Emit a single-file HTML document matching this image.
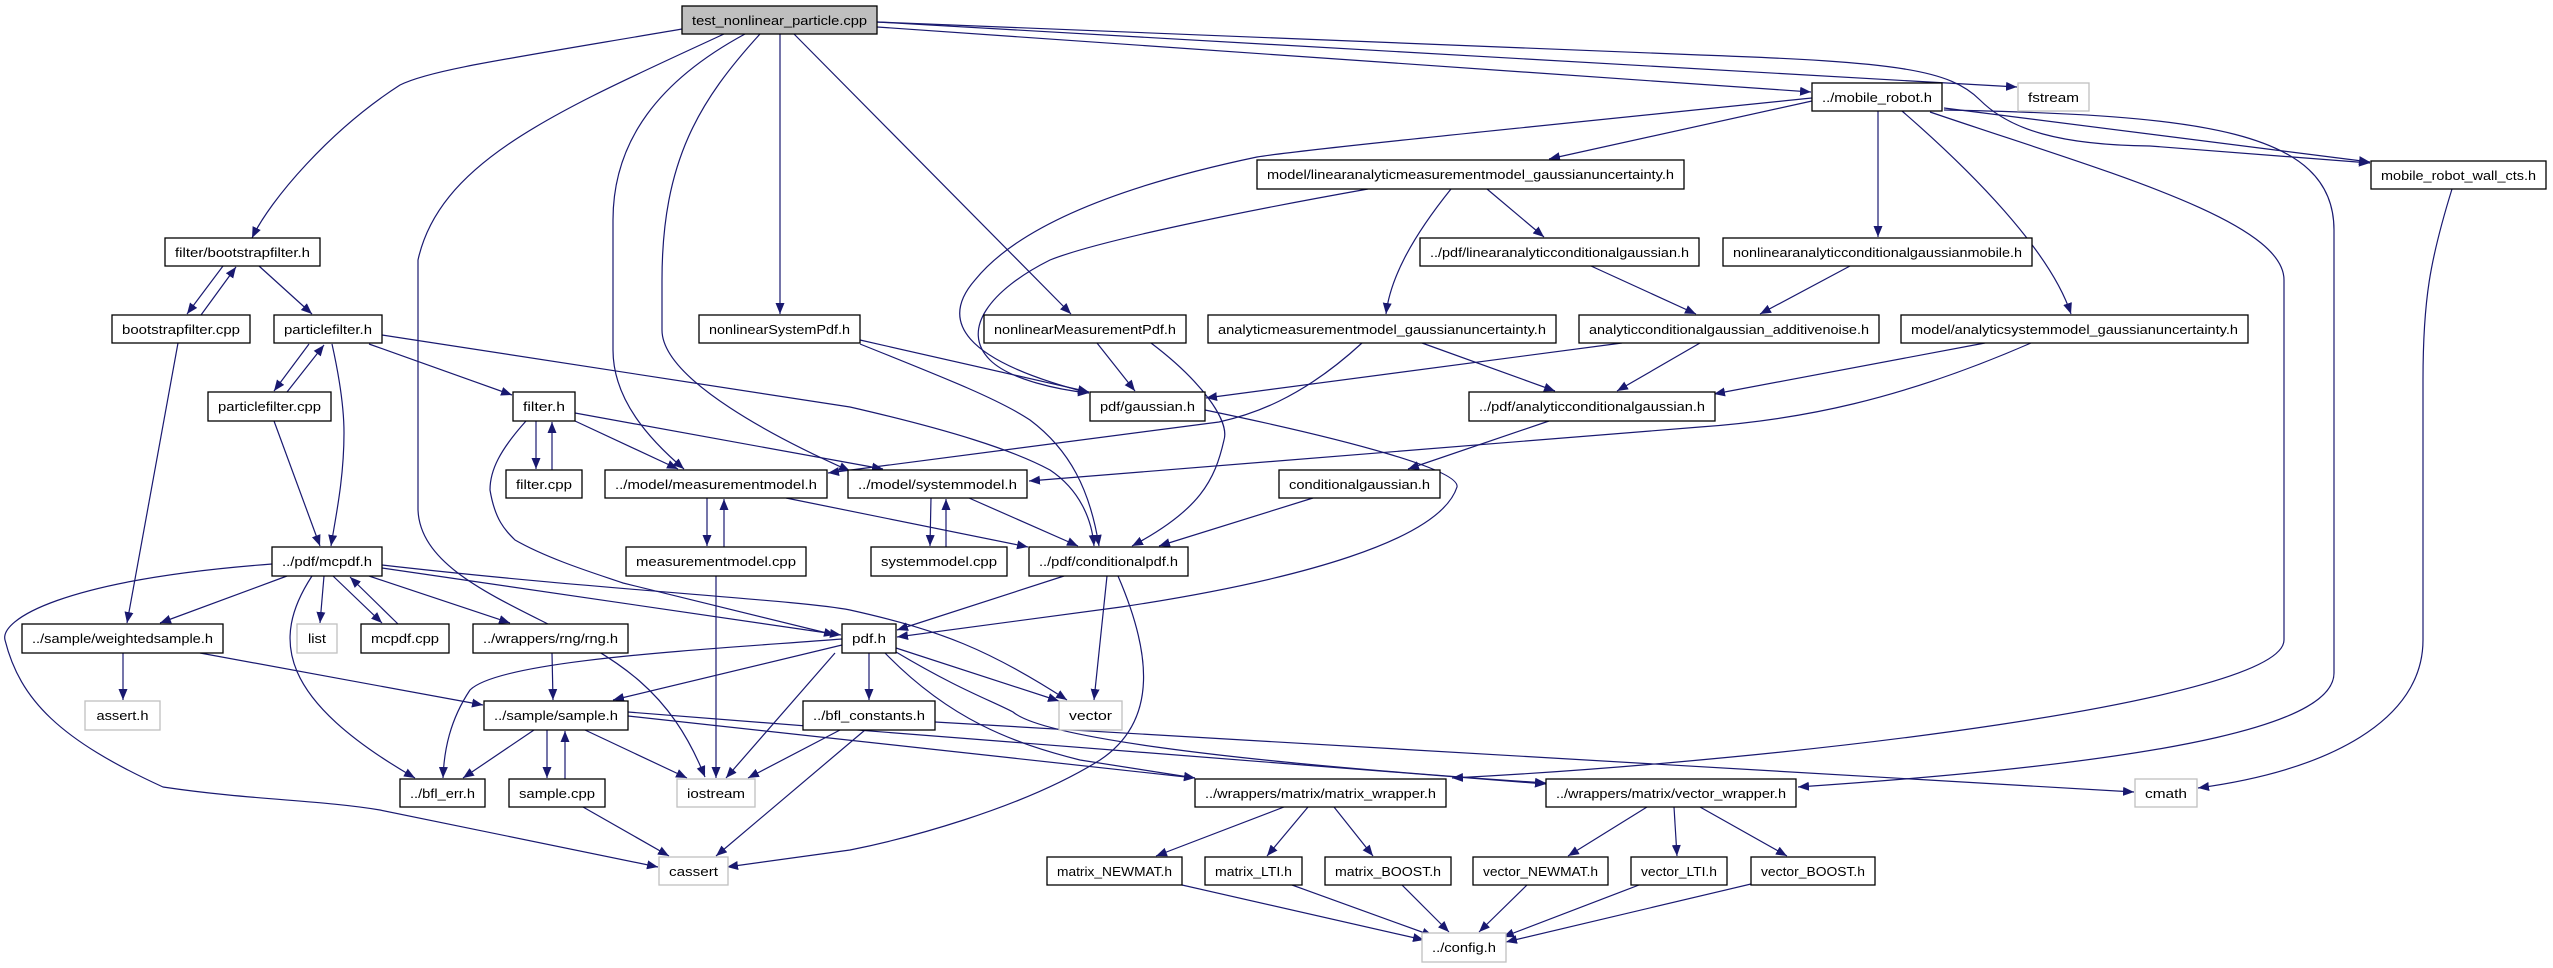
<!DOCTYPE html>
<html><head><meta charset="utf-8"><style>
html,body{margin:0;padding:0;background:#fff;}
svg{display:block;}
text{font-family:"Liberation Sans",sans-serif;font-size:13px;fill:#000;}
</style></head><body>
<svg width="2553" height="968" viewBox="0 0 2553 968" xmlns="http://www.w3.org/2000/svg">
<defs>
<marker id="a" markerWidth="12" markerHeight="10" refX="11" refY="4.5" orient="auto" markerUnits="userSpaceOnUse">
<path d="M0,0 L11,4.5 L0,9 z" fill="#191970"/>
</marker>
</defs>
<g fill="none" stroke="#191970" stroke-width="1.2" marker-end="url(#a)">
<!-- from test -->
<path d="M682,29 C500,60 430,70 400,85 C330,130 270,200 252,238"/>
<path d="M724,34 C560,110 440,160 418,260 L418,510 C420,560 480,590 540,620 C620,660 670,690 705,777"/>
<path d="M745,34 C660,80 613,140 613,220 L613,350 C613,400 650,440 684,469"/>
<path d="M760,34 C700,100 662,160 662,280 L662,330 C662,380 780,440 850,471"/>
<path d="M780,34 L780,314"/>
<path d="M794,34 L1071,314"/>
<path d="M877,27 L1811,92"/>
<path d="M877,22 L2017,87"/>
<path d="M877,22 L1700,55 C1900,62 1950,70 1980,100 C2010,130 2060,145 2150,146 L2370,163"/>
<!-- mobile_robot -->
<path d="M1878,111 L1878,237"/>
<path d="M1902,111 C1970,170 2050,250 2071,314"/>
<path d="M1930,112 C2100,170 2284,220 2284,280 L2284,640 C2284,700 1800,760 1452,778"/>
<path d="M1944,110 C2200,115 2334,130 2334,230 L2334,673 C2334,720 2200,760 1798,787"/>
<path d="M1944,108 L2370,162"/>
<path d="M1812,101 L1549,159"/>
<path d="M1812,98 C1500,130 1300,150 1257,157 C1100,190 1013,233 975,280 C940,320 960,360 1089,393"/>
<path d="M1368,189 C1250,210 1100,240 1050,260 C990,290 960,330 990,360 C1010,380 1060,390 1089,393"/>
<path d="M1451,189 C1410,240 1390,280 1386,314"/>
<path d="M1487,189 L1544,237"/>
<path d="M1591,266 L1696,314"/>
<path d="M1850,266 L1760,314"/>
<path d="M1622,343 L1206,398"/>
<path d="M1700,343 L1617,391"/>
<path d="M1985,343 L1714,394"/>
<path d="M2031,343 C1900,400 1800,420 1700,427 L1029,481"/>
<path d="M1422,343 L1555,391"/>
<path d="M1362,343 C1300,400 1250,415 1219,422 L828,473"/>
<path d="M1549,421 L1408,469"/>
<path d="M1313,498 L1159,546"/>
<path d="M1205,410 C1350,440 1460,470 1457,487 C1440,540 1300,580 1121,607 L897,637"/>
<path d="M1097,343 L1135,391"/>
<path d="M1151,343 C1200,380 1230,420 1224,440 C1215,480 1200,510 1132,546"/>
<path d="M860,340 L1089,392"/>
<path d="M860,344 C950,380 1000,400 1030,420 C1070,450 1090,490 1099,546"/>
<path d="M382,335 L850,407 C950,430 1013,450 1050,470 C1080,490 1092,520 1094,546"/>
<path d="M369,344 L512,395"/>
<path d="M332,344 C340,380 344,410 344,433 C344,480 335,520 331,546"/>
<path d="M309,344 L274,391"/>
<path d="M287,392 L324,345"/>
<path d="M274,421 L320,546"/>
<path d="M223,266 L187,314"/>
<path d="M201,315 L236,267"/>
<path d="M259,266 L312,314"/>
<path d="M178,343 L127,623"/>
<path d="M536,421 L536,469"/>
<path d="M552,470 L552,422"/>
<path d="M575,421 L678,469"/>
<path d="M575,413 L883,469"/>
<path d="M526,421 C500,450 490,470 490,490 C495,520 505,530 515,540 C550,560 600,575 623,583 L835,635"/>
<path d="M707,498 L707,546"/>
<path d="M724,547 L724,499"/>
<path d="M786,498 L1028,547"/>
<path d="M716,576 L716,778"/>
<path d="M931,498 L930,546"/>
<path d="M946,547 L946,499"/>
<path d="M969,498 L1078,546"/>
<path d="M1064,576 L897,630"/>
<path d="M1107,576 L1094,700"/>
<path d="M1118,576 C1150,650 1160,720 1100,760 C1020,810 900,840 850,850 L727,867"/>
<path d="M287,576 L160,623"/>
<path d="M324,576 L320,623"/>
<path d="M333,576 L382,623"/>
<path d="M398,624 L350,577"/>
<path d="M369,576 L510,623"/>
<path d="M382,568 L841,635"/>
<path d="M382,565 C600,590 800,600 850,610 C940,630 990,650 1067,700"/>
<path d="M312,576 C270,640 280,700 415,778"/>
<path d="M272,564 C60,580 0,620 5,640 C20,700 60,740 163,787 C250,800 320,800 380,810 L658,867"/>
<path d="M123,653 L123,700"/>
<path d="M200,653 L483,705"/>
<path d="M552,653 L553,700"/>
<path d="M842,645 L613,700"/>
<path d="M842,639 C700,650 500,660 470,690 C450,720 444,750 443,778"/>
<path d="M835,653 L726,778"/>
<path d="M869,653 L869,700"/>
<path d="M896,648 L1059,701"/>
<path d="M885,653 C950,720 1013,743 1080,760 L1195,778"/>
<path d="M896,652 C960,690 990,700 1013,712 C1040,735 1200,760 1546,783"/>
<path d="M534,730 L463,778"/>
<path d="M547,730 L547,778"/>
<path d="M565,779 L565,731"/>
<path d="M585,730 L687,778"/>
<path d="M628,716 L1195,778"/>
<path d="M628,712 L1546,784"/>
<path d="M583,807 L669,856"/>
<path d="M840,730 L748,778"/>
<path d="M865,730 L716,856"/>
<path d="M935,722 L2134,792"/>
<path d="M1284,807 L1156,856"/>
<path d="M1308,807 L1267,856"/>
<path d="M1334,807 L1373,856"/>
<path d="M1647,807 L1568,856"/>
<path d="M1674,807 L1677,856"/>
<path d="M1700,807 L1787,856"/>
<path d="M1182,885 L1424,940"/>
<path d="M1292,885 L1433,936"/>
<path d="M1402,885 L1449,932"/>
<path d="M1527,885 L1479,932"/>
<path d="M1639,885 L1503,937"/>
<path d="M1751,884 L1506,942"/>
<path d="M2452,189 C2430,260 2423,300 2423,380 L2423,640 C2423,720 2330,770 2198,788"/>
</g>
<g stroke-width="1.3">
<rect x="682" y="6" width="195" height="28" fill="#bfbfbf" stroke="#000"/>
<g fill="#fff" stroke="#000">
<rect x="165" y="238" width="155" height="28"/>
<rect x="112" y="315" width="138" height="28"/>
<rect x="274" y="315" width="108" height="28"/>
<rect x="208" y="392" width="123" height="29"/>
<rect x="513" y="392" width="62" height="29"/>
<rect x="506" y="470" width="76" height="28"/>
<rect x="605" y="470" width="222" height="28"/>
<rect x="699" y="315" width="161" height="28"/>
<rect x="984" y="315" width="202" height="28"/>
<rect x="1208" y="315" width="348" height="28"/>
<rect x="1579" y="315" width="300" height="28"/>
<rect x="1257" y="160" width="427" height="29"/>
<rect x="1420" y="238" width="279" height="28"/>
<rect x="1090" y="392" width="115" height="29"/>
<rect x="1469" y="392" width="246" height="29"/>
<rect x="848" y="470" width="179" height="28"/>
<rect x="1279" y="470" width="161" height="28"/>
<rect x="1812" y="83" width="130" height="28"/>
<rect x="2371" y="161" width="175" height="28"/>
<rect x="1723" y="238" width="309" height="28"/>
<rect x="1901" y="315" width="347" height="28"/>
<rect x="272" y="547" width="110" height="29"/>
<rect x="22" y="624" width="201" height="29"/>
<rect x="361" y="624" width="88" height="29"/>
<rect x="473" y="624" width="155" height="29"/>
<rect x="484" y="701" width="144" height="29"/>
<rect x="400" y="779" width="85" height="28"/>
<rect x="509" y="779" width="96" height="28"/>
<rect x="626" y="547" width="180" height="29"/>
<rect x="842" y="624" width="54" height="29"/>
<rect x="803" y="701" width="132" height="29"/>
<rect x="871" y="547" width="136" height="29"/>
<rect x="1029" y="547" width="159" height="29"/>
<rect x="1195" y="779" width="251" height="28"/>
<rect x="1546" y="779" width="250" height="28"/>
<rect x="1047" y="857" width="135" height="28"/>
<rect x="1205" y="857" width="97" height="28"/>
<rect x="1325" y="857" width="126" height="28"/>
<rect x="1473" y="857" width="135" height="28"/>
<rect x="1631" y="857" width="96" height="28"/>
<rect x="1751" y="857" width="124" height="28"/>
</g>
<g fill="#fff" stroke="#c0c0c0">
<rect x="2018" y="83" width="71" height="28"/>
<rect x="297" y="624" width="40" height="29"/>
<rect x="85" y="701" width="75" height="29"/>
<rect x="677" y="779" width="78" height="28"/>
<rect x="659" y="857" width="69" height="28"/>
<rect x="1059" y="701" width="63" height="29"/>
<rect x="1422" y="933" width="84" height="29"/>
<rect x="2135" y="779" width="62" height="28"/>
</g>
</g>
<g text-anchor="middle" lengthAdjust="spacingAndGlyphs">
<text x="779.5" y="25" textLength="175" lengthAdjust="spacingAndGlyphs">test_nonlinear_particle.cpp</text>
<text x="242.5" y="257" textLength="135" lengthAdjust="spacingAndGlyphs">filter/bootstrapfilter.h</text>
<text x="181" y="334" textLength="118" lengthAdjust="spacingAndGlyphs">bootstrapfilter.cpp</text>
<text x="328" y="334" textLength="88" lengthAdjust="spacingAndGlyphs">particlefilter.h</text>
<text x="269.5" y="411" textLength="103" lengthAdjust="spacingAndGlyphs">particlefilter.cpp</text>
<text x="544" y="411" textLength="42" lengthAdjust="spacingAndGlyphs">filter.h</text>
<text x="544" y="489" textLength="56" lengthAdjust="spacingAndGlyphs">filter.cpp</text>
<text x="716" y="489" textLength="202" lengthAdjust="spacingAndGlyphs">../model/measurementmodel.h</text>
<text x="779.5" y="334" textLength="141" lengthAdjust="spacingAndGlyphs">nonlinearSystemPdf.h</text>
<text x="1085" y="334" textLength="182" lengthAdjust="spacingAndGlyphs">nonlinearMeasurementPdf.h</text>
<text x="1382" y="334" textLength="328" lengthAdjust="spacingAndGlyphs">analyticmeasurementmodel_gaussianuncertainty.h</text>
<text x="1729" y="334" textLength="280" lengthAdjust="spacingAndGlyphs">analyticconditionalgaussian_additivenoise.h</text>
<text x="1470.5" y="179" textLength="407" lengthAdjust="spacingAndGlyphs">model/linearanalyticmeasurementmodel_gaussianuncertainty.h</text>
<text x="1559.5" y="257" textLength="259" lengthAdjust="spacingAndGlyphs">../pdf/linearanalyticconditionalgaussian.h</text>
<text x="1147.5" y="411" textLength="95" lengthAdjust="spacingAndGlyphs">pdf/gaussian.h</text>
<text x="1592" y="411" textLength="226" lengthAdjust="spacingAndGlyphs">../pdf/analyticconditionalgaussian.h</text>
<text x="937.5" y="489" textLength="159" lengthAdjust="spacingAndGlyphs">../model/systemmodel.h</text>
<text x="1359.5" y="489" textLength="141" lengthAdjust="spacingAndGlyphs">conditionalgaussian.h</text>
<text x="1877" y="102" textLength="110" lengthAdjust="spacingAndGlyphs">../mobile_robot.h</text>
<text x="2458.5" y="180" textLength="155" lengthAdjust="spacingAndGlyphs">mobile_robot_wall_cts.h</text>
<text x="1877.5" y="257" textLength="289" lengthAdjust="spacingAndGlyphs">nonlinearanalyticconditionalgaussianmobile.h</text>
<text x="2074.5" y="334" textLength="327" lengthAdjust="spacingAndGlyphs">model/analyticsystemmodel_gaussianuncertainty.h</text>
<text x="327" y="566" textLength="90" lengthAdjust="spacingAndGlyphs">../pdf/mcpdf.h</text>
<text x="122.5" y="643" textLength="181" lengthAdjust="spacingAndGlyphs">../sample/weightedsample.h</text>
<text x="405" y="643" textLength="68" lengthAdjust="spacingAndGlyphs">mcpdf.cpp</text>
<text x="550.5" y="643" textLength="135" lengthAdjust="spacingAndGlyphs">../wrappers/rng/rng.h</text>
<text x="556" y="720" textLength="124" lengthAdjust="spacingAndGlyphs">../sample/sample.h</text>
<text x="442.5" y="798" textLength="65" lengthAdjust="spacingAndGlyphs">../bfl_err.h</text>
<text x="557" y="798" textLength="76" lengthAdjust="spacingAndGlyphs">sample.cpp</text>
<text x="716" y="566" textLength="160" lengthAdjust="spacingAndGlyphs">measurementmodel.cpp</text>
<text x="869" y="643" textLength="34" lengthAdjust="spacingAndGlyphs">pdf.h</text>
<text x="869" y="720" textLength="112" lengthAdjust="spacingAndGlyphs">../bfl_constants.h</text>
<text x="939" y="566" textLength="116" lengthAdjust="spacingAndGlyphs">systemmodel.cpp</text>
<text x="1108.5" y="566" textLength="139" lengthAdjust="spacingAndGlyphs">../pdf/conditionalpdf.h</text>
<text x="1320.5" y="798" textLength="231" lengthAdjust="spacingAndGlyphs">../wrappers/matrix/matrix_wrapper.h</text>
<text x="1671" y="798" textLength="230" lengthAdjust="spacingAndGlyphs">../wrappers/matrix/vector_wrapper.h</text>
<text x="1114.5" y="876" textLength="115" lengthAdjust="spacingAndGlyphs">matrix_NEWMAT.h</text>
<text x="1253.5" y="876" textLength="77" lengthAdjust="spacingAndGlyphs">matrix_LTI.h</text>
<text x="1388" y="876" textLength="106" lengthAdjust="spacingAndGlyphs">matrix_BOOST.h</text>
<text x="1540.5" y="876" textLength="115" lengthAdjust="spacingAndGlyphs">vector_NEWMAT.h</text>
<text x="1679" y="876" textLength="76" lengthAdjust="spacingAndGlyphs">vector_LTI.h</text>
<text x="1813" y="876" textLength="104" lengthAdjust="spacingAndGlyphs">vector_BOOST.h</text>
<text x="2053.5" y="102" textLength="51" lengthAdjust="spacingAndGlyphs">fstream</text>
<text x="317" y="643" textLength="18" lengthAdjust="spacingAndGlyphs">list</text>
<text x="122.5" y="720" textLength="52" lengthAdjust="spacingAndGlyphs">assert.h</text>
<text x="716" y="798" textLength="58" lengthAdjust="spacingAndGlyphs">iostream</text>
<text x="693.5" y="876" textLength="49" lengthAdjust="spacingAndGlyphs">cassert</text>
<text x="1090.5" y="720" textLength="43" lengthAdjust="spacingAndGlyphs">vector</text>
<text x="1464" y="952" textLength="64" lengthAdjust="spacingAndGlyphs">../config.h</text>
<text x="2166" y="798" textLength="42" lengthAdjust="spacingAndGlyphs">cmath</text>
</g>
</svg>
</body></html>
